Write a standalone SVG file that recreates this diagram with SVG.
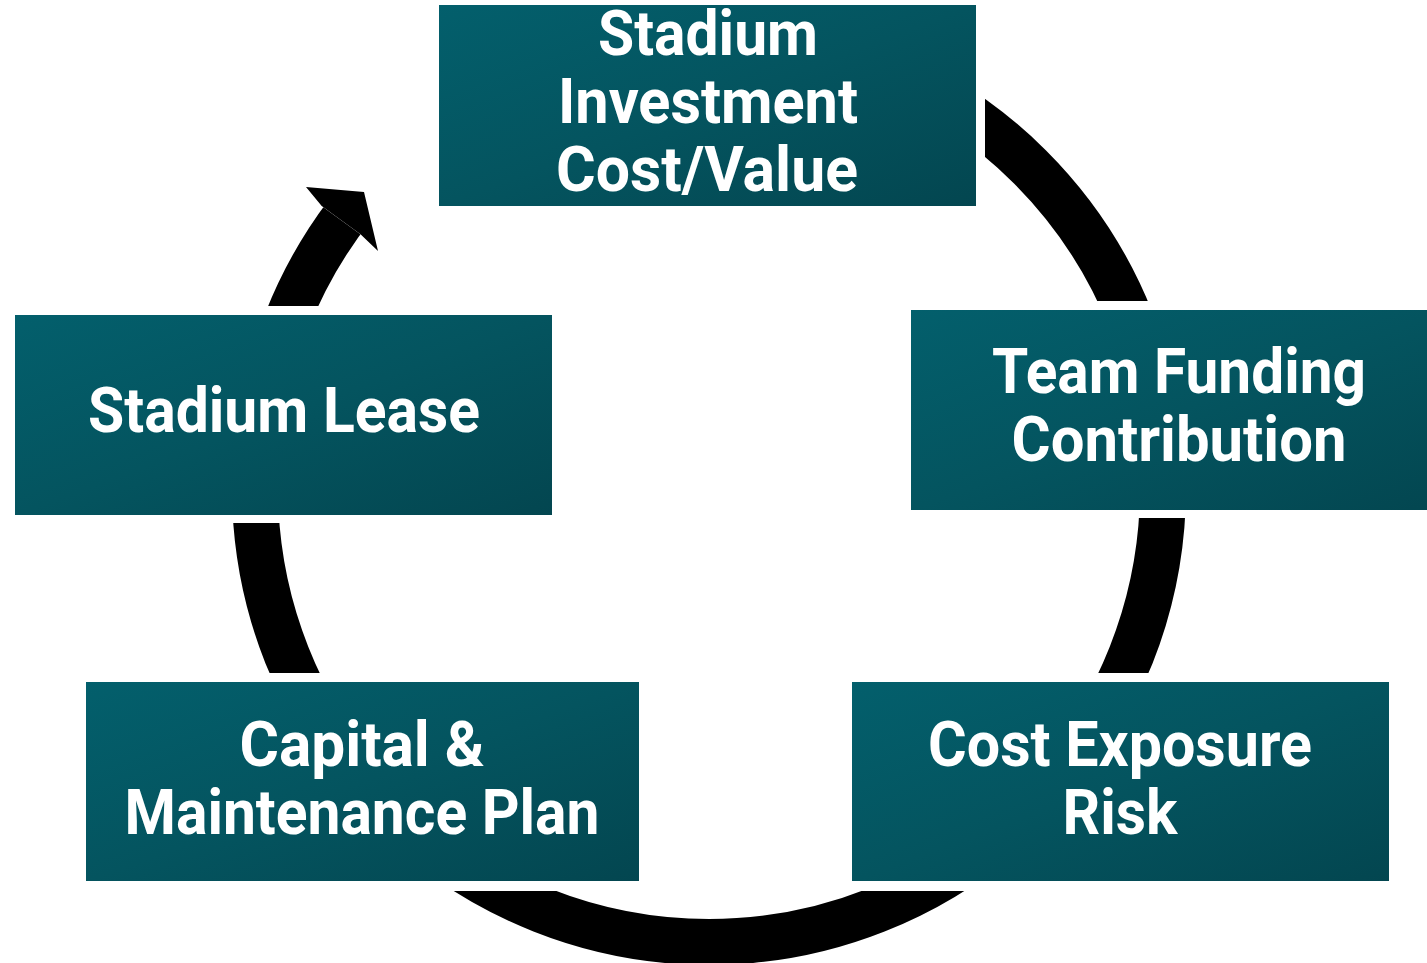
<svg xmlns="http://www.w3.org/2000/svg" width="1427" height="963" viewBox="0 0 1427 963">
  <style>
    .box { fill: url(#teal); }
    .lbl { font-family: Roboto, "Liberation Sans", "DejaVu Sans", sans-serif; font-weight: 700; font-size: 63px; fill: #ffffff; text-anchor: middle; }
    .ring { fill: none; stroke: #000000; stroke-width: 46; }
    .head { fill: #000000; }
  </style>
  <defs>
    <linearGradient id="teal" x1="0" y1="0" x2="1" y2="1">
      <stop offset="0" stop-color="#035f6c"/>
      <stop offset="0.5" stop-color="#04545f"/>
      <stop offset="1" stop-color="#034650"/>
    </linearGradient>
    <mask id="ringMask" maskUnits="userSpaceOnUse" x="0" y="0" width="1427" height="963">
      <rect x="0" y="0" width="1427" height="963" fill="#ffffff"/>
      <rect x="430" y="-10" width="555" height="225" fill="#000000"/>
      <rect x="902" y="301" width="540" height="217" fill="#000000"/>
      <rect x="6" y="306" width="555" height="217" fill="#000000"/>
      <rect x="77" y="673" width="571" height="218" fill="#000000"/>
      <rect x="843" y="673" width="555" height="218" fill="#000000"/>
      <polygon points="709,488 224,135 300,-100 709,-100" fill="#000000"/>
    </mask>
  </defs>
  <rect x="0" y="0" width="1427" height="963" fill="#ffffff"/>

  <g id="connectors">
    <circle class="ring" cx="709" cy="488" r="454" mask="url(#ringMask)"/>
    <polygon class="head" points="321.7,206.1 306,187 364,192 378,251 360.5,234.3"/>
  </g>

  <g id="node-investment">
    <rect class="box" x="439" y="5" width="537" height="201"/>
    <text class="lbl" x="708" y="55" textLength="220" lengthAdjust="spacingAndGlyphs">Stadium</text>
    <text class="lbl" x="708" y="123" textLength="300" lengthAdjust="spacingAndGlyphs">Investment</text>
    <text class="lbl" x="707" y="191" textLength="302" lengthAdjust="spacingAndGlyphs">Cost/Value</text>
  </g>

  <g id="node-team-funding">
    <rect class="box" x="911" y="310" width="537" height="200"/>
    <text class="lbl" x="1179" y="393" textLength="374" lengthAdjust="spacingAndGlyphs">Team Funding</text>
    <text class="lbl" x="1179" y="461" textLength="335" lengthAdjust="spacingAndGlyphs">Contribution</text>
  </g>

  <g id="node-stadium-lease">
    <rect class="box" x="15" y="315" width="537" height="200"/>
    <text class="lbl" x="284" y="432" textLength="392" lengthAdjust="spacingAndGlyphs">Stadium Lease</text>
  </g>

  <g id="node-capital">
    <rect class="box" x="86" y="682" width="553" height="199"/>
    <text class="lbl" x="362" y="766" textLength="245" lengthAdjust="spacingAndGlyphs">Capital &amp;</text>
    <text class="lbl" x="362" y="834" textLength="475" lengthAdjust="spacingAndGlyphs">Maintenance Plan</text>
  </g>

  <g id="node-cost-exposure">
    <rect class="box" x="852" y="682" width="537" height="199"/>
    <text class="lbl" x="1120" y="766" textLength="384" lengthAdjust="spacingAndGlyphs">Cost Exposure</text>
    <text class="lbl" x="1120" y="834" textLength="115" lengthAdjust="spacingAndGlyphs">Risk</text>
  </g>
</svg>
